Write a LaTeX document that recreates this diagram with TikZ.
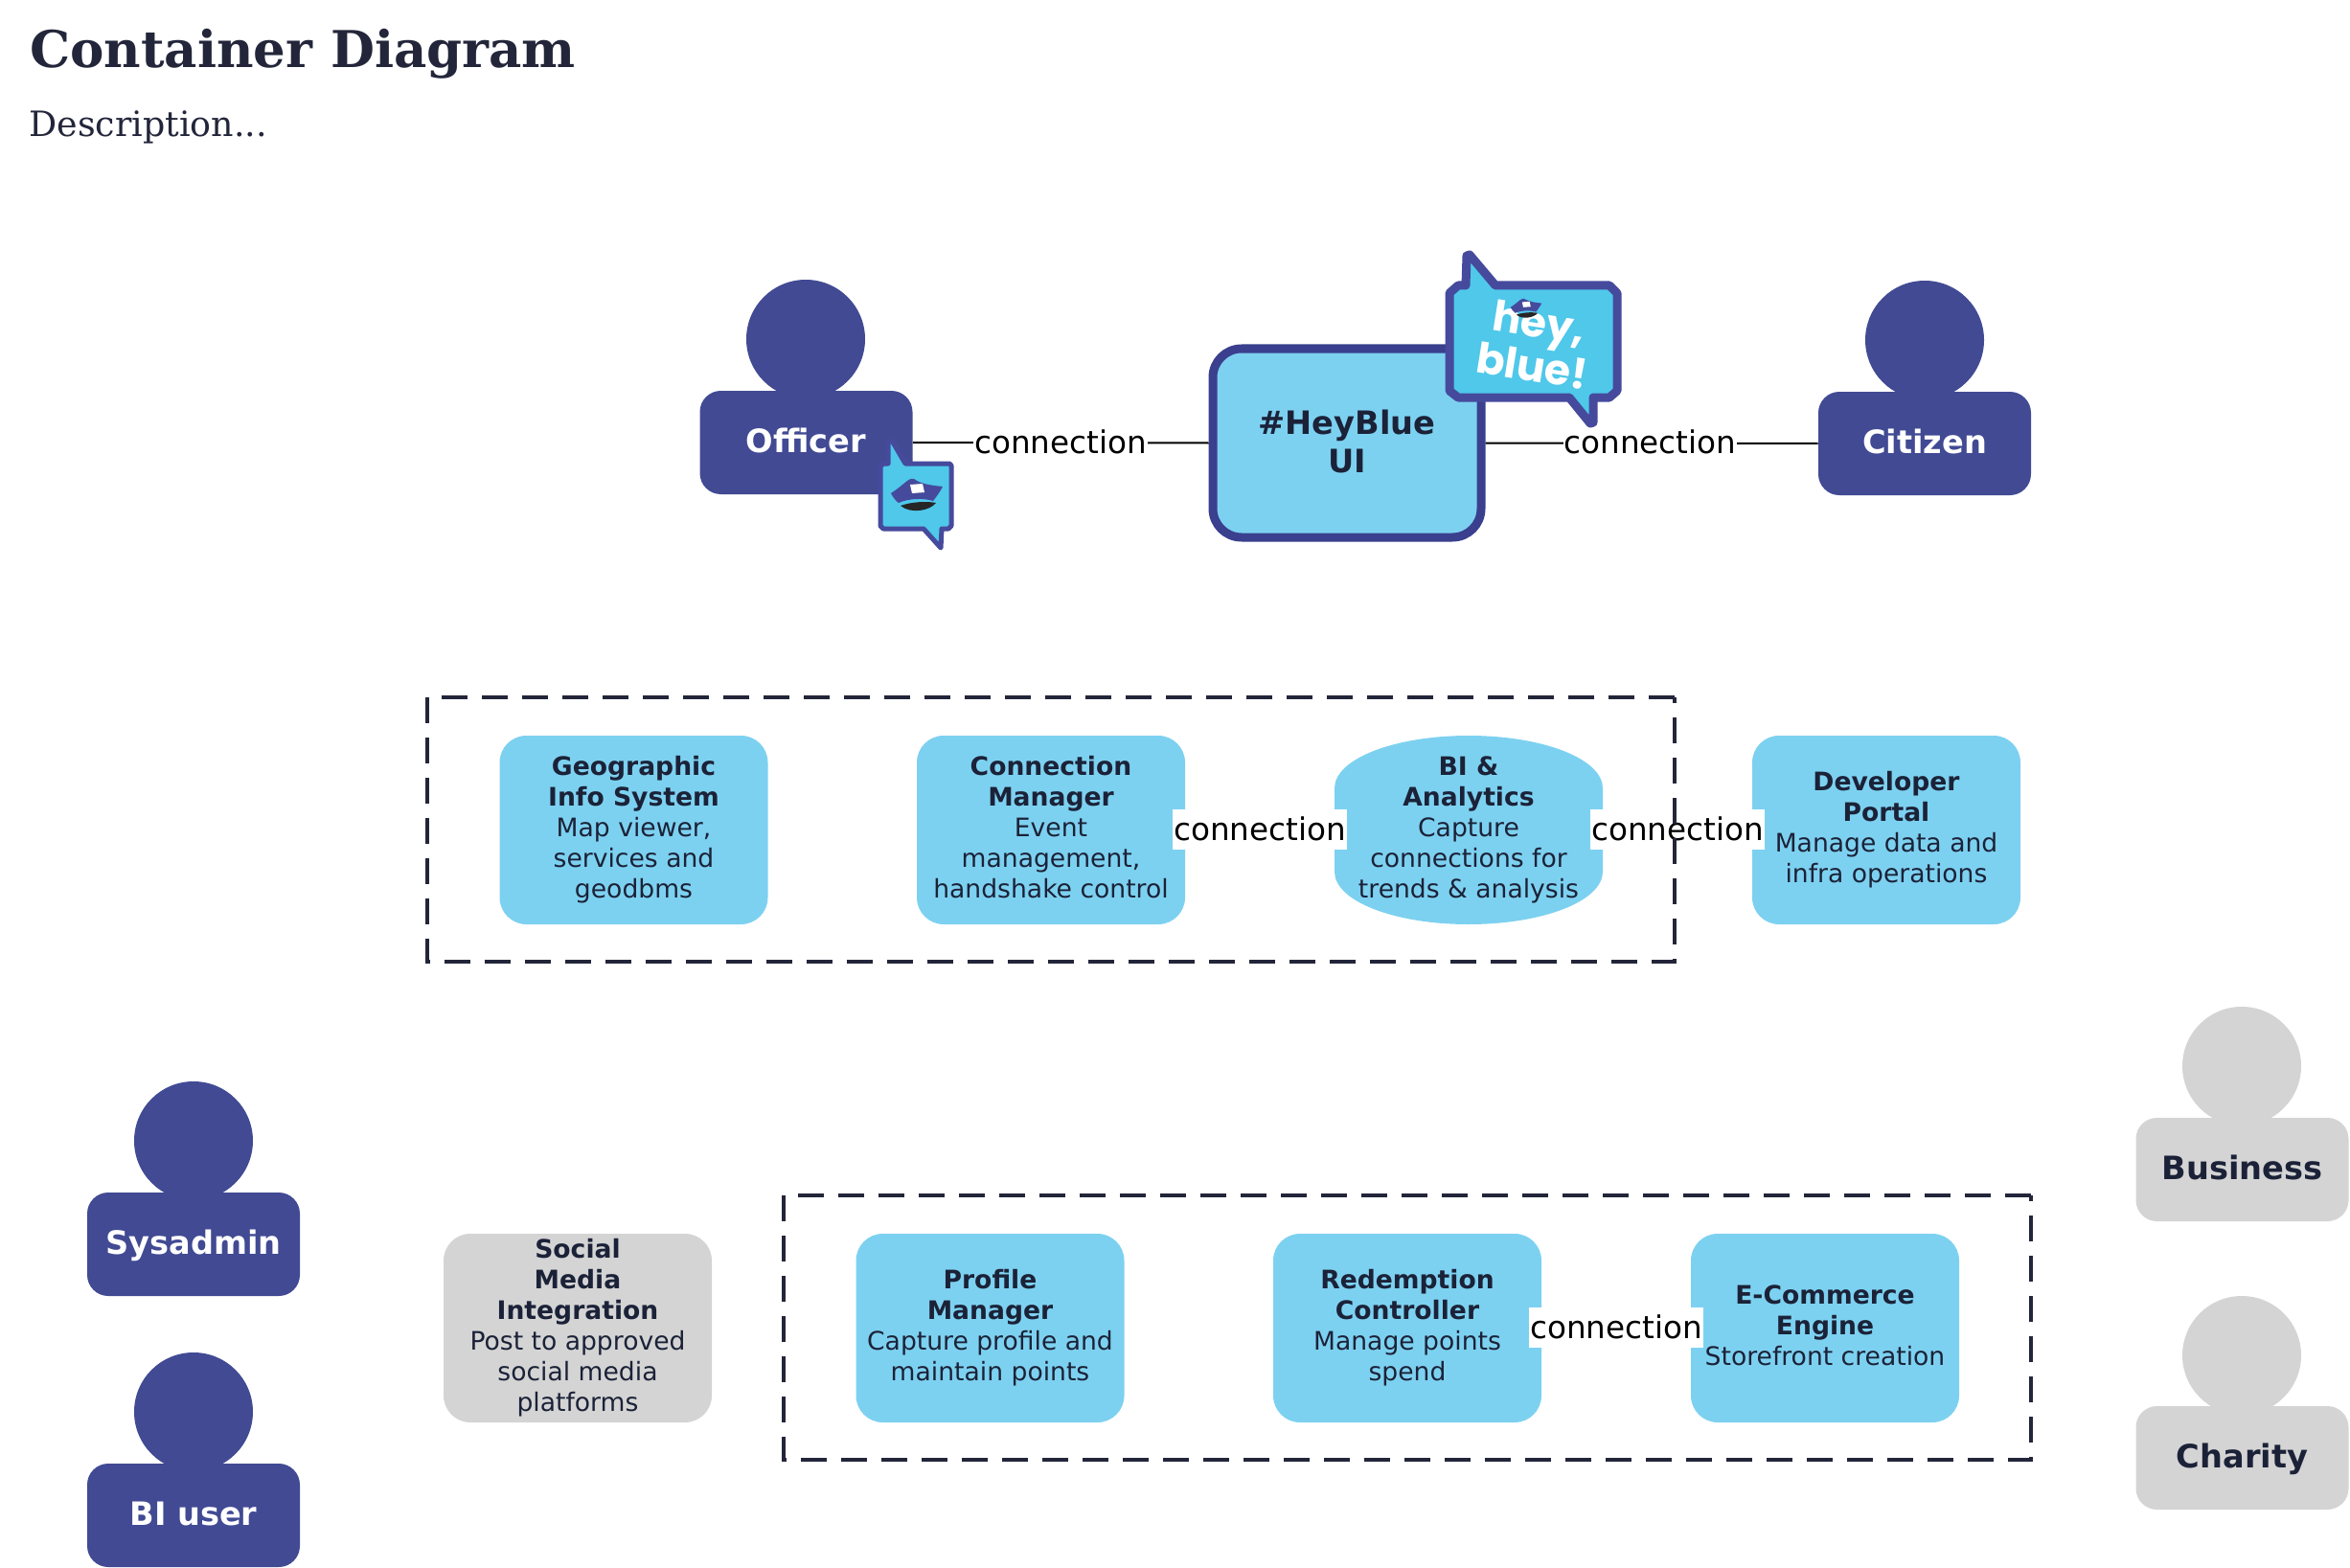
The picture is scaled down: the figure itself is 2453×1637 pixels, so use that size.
\documentclass[tikz,border=0pt]{standalone}
\usepackage{fontspec}
\setmainfont{DejaVu Sans}
\newfontfamily\titlefont{DejaVu Serif}
\newfontfamily\descfont{DejaVu Serif}
\newfontfamily\heyfont{Poppins}
\definecolor{navy}{HTML}{414A93}
\definecolor{uiborder}{HTML}{3A3F8E}
\definecolor{sky}{HTML}{7DD1F0}
\definecolor{greybox}{HTML}{D4D4D4}
\definecolor{ink}{HTML}{1B2238}
\definecolor{titleink}{HTML}{23263A}
\definecolor{bubble}{HTML}{4FC8EA}
\definecolor{bubbleedge}{HTML}{464A9C}
\newcommand{\hl}[1]{{\bfseries #1}}
\newcommand{\hathere}{%
  \fill[bubbleedge] (-27,-2) .. controls (-18,-8) and (-14,-12) .. (-10,-15) .. controls (-6,-18) and (-3,-18) .. (0,-15)
    .. controls (8,-11) and (18,-10) .. (27,-9) .. controls (24,-3) and (20,2) .. (17,6)
    .. controls (8,3) and (-8,3) .. (-19,8) .. controls (-22,6) and (-25,2) .. (-27,-2) -- cycle;
  \fill[white] (-7,-11) -- (6,-12) -- (8,-3) -- (-5,-2) -- cycle;
  \fill[black!85] (-17,11) .. controls (-6,7) and (10,6) .. (20,8) .. controls (14,16) and (-6,20) .. (-17,11) -- cycle;
}
\tikzset{
  x=0.5pt,y=-0.5pt,
  actorbody/.style={fill=#1,rounded corners=11pt,minimum width=111pt,minimum height=54pt,inner sep=0pt,text height=12pt,text depth=1.8pt,font=\fontsize{16.8}{20}\selectfont\bfseries},
  head/.style={circle,fill=#1,minimum size=62pt,inner sep=0pt},
  boxnode/.style={fill=sky,rounded corners=14pt,minimum width=140pt,minimum height=98.5pt,inner sep=0pt,align=center,text=ink,font=\fontsize{13.3}{16}\selectfont},
  conn/.style={fill=white,inner xsep=0.5pt,inner ysep=0pt,minimum height=21pt,font=\fontsize{16.3}{20}\selectfont,text=black},
  link/.style={draw=black,line width=1pt},
  boundary/.style={draw=titleink,line width=1.7pt,dash pattern=on 13.5pt off 7.5pt},
  bubbleshape/.style={fill=bubble,draw=bubbleedge,line join=round}
}
\begin{document}
\begin{tikzpicture}
\useasboundingbox (0,0) rectangle (2453,1637);
% title
\node[anchor=base west,inner sep=0pt,text=titleink,font=\titlefont\fontsize{26.5}{32}\selectfont\bfseries] (title) at (31,71) {Container Diagram};
\node[anchor=base west,inner sep=0pt,text=titleink,font=\descfont\fontsize{18.2}{22}\selectfont] (desc) at (30,143) {Description...};
% actors
\node[head=navy] (officerhead) at (841,354) {};
\node[actorbody=navy,text=white] (officer) at (841.5,462) {Officer};
\node[head=navy] (citizenhead) at (2009,355) {};
\node[actorbody=navy,text=white] (citizen) at (2009,463) {Citizen};
\node[head=navy] (sysadminhead) at (202,1191) {};
\node[actorbody=navy,text=white] (sysadmin) at (202,1299) {Sysadmin};
\node[head=navy] (biuserhead) at (202,1474) {};
\node[actorbody=navy,text=white] (biuser) at (202,1582) {BI user};
\node[head=greybox] (businesshead) at (2340,1113) {};
\node[actorbody=greybox,text=ink] (business) at (2340.5,1221) {Business};
\node[head=greybox] (charityhead) at (2340,1415) {};
\node[actorbody=greybox,text=ink] (charity) at (2340.5,1522) {Charity};
% UI
\node[draw=uiborder,line width=4.5pt,fill=sky,rounded corners=15pt,minimum width=140pt,minimum height=98.5pt,inner sep=0pt,align=center,text=ink,font=\fontsize{16.8}{20}\selectfont\bfseries] (ui) at (1406,462.5) {\#HeyBlue\\UI\rule[-2pt]{0pt}{0pt}};
% boxes
\node[boxnode] (gis) at (661.5,866.5) {\hl{Geographic}\\\hl{Info System}\\Map viewer,\\services and\\geodbms};
\node[boxnode] (cm) at (1097,866.5) {\hl{Connection}\\\hl{Manager}\\Event\\management,\\handshake control\vphantom{g}};
\fill[sky] (1393,823) .. controls (1393,792) and (1456,768) .. (1533,768) .. controls (1610,768) and (1673,792) .. (1673,823)
  -- (1673,910) .. controls (1673,941) and (1610,965) .. (1533,965) .. controls (1456,965) and (1393,941) .. (1393,910) -- cycle;
\node[boxnode,fill=none] (bi) at (1533,866.5) {\hl{BI \&}\\\hl{Analytics}\\Capture\\connections for\\trends \& analysis};
\node[boxnode] (dev) at (1969,866.5) {\hl{Developer}\\\hl{Portal}\\Manage data and\\infra operations};
\node[boxnode,fill=greybox] (social) at (603,1386.5) {\hl{Social}\\\hl{Media}\\\hl{Integration}\\Post to approved\\social media\\platforms};
\node[boxnode] (profile) at (1033.5,1386.5) {\hl{Profile}\\\hl{Manager}\\Capture profile and\\maintain points};
\node[boxnode] (redeem) at (1469,1386.5) {\hl{Redemption}\\\hl{Controller}\\Manage points\\spend};
\node[boxnode] (ecom) at (1905,1386.5) {\hl{E-Commerce}\\\hl{Engine}\\Storefront creation\rule[-3pt]{0pt}{0pt}};
% connectors
\draw[link] (officer.east) -- node[conn,pos=0.5,yshift=0.5pt] (c1) {connection} (ui.west);
\draw[link] (ui.east) -- node[conn,pos=0.495,yshift=0.5pt] (c2) {connection} (citizen.west);
\draw[link] (cm.east) -- node[conn,yshift=0.5pt] (c3) {connection} (bi.west);
\draw[link] (bi.east) -- node[conn,yshift=0.5pt] (c4) {connection} (dev.west);
\draw[link] (redeem.east) -- node[conn,yshift=0.5pt] (c5) {connection} (ecom.west);
% boundaries
\draw[boundary] (1748,728) -- (446,728) -- (446,1004) -- (1748,1004) -- cycle;
\draw[boundary] (2120,1248) -- (818,1248) -- (818,1524) -- (2120,1524) -- cycle;
% officer badge
\draw[bubbleshape,line width=2.5pt] (922,484) -- (927,484) -- (927,462) -- (931,460) -- (945,484) -- (991,484)
  -- (993,486) -- (993,549) -- (990,552) -- (983,552) -- (982,572) -- (964,552) -- (922,552) -- (919,549) -- (919,487) -- cycle;
\begin{scope}[shift={(957,517)}]\hathere\end{scope}
% hey blue badge
\draw[bubbleshape,line width=4.5pt] (1522,298) -- (1530,298) -- (1531,267) -- (1534,266) -- (1561,298) -- (1680,298)
  -- (1688,306) -- (1688,408) -- (1680,415) -- (1663,415) -- (1663,441) -- (1660,442) -- (1638,415) -- (1522,415) -- (1513,408) -- (1513,306) -- cycle;
\node[text=white,rotate=-9,inner sep=0pt,align=center,font=\heyfont\fontsize{22}{19}\selectfont\bfseries] (heyblue) at (1603,359) {hey,\\blue!};
\begin{scope}[shift={(1593,322)},scale=0.6]\hathere\end{scope}
\end{tikzpicture}
\end{document}
